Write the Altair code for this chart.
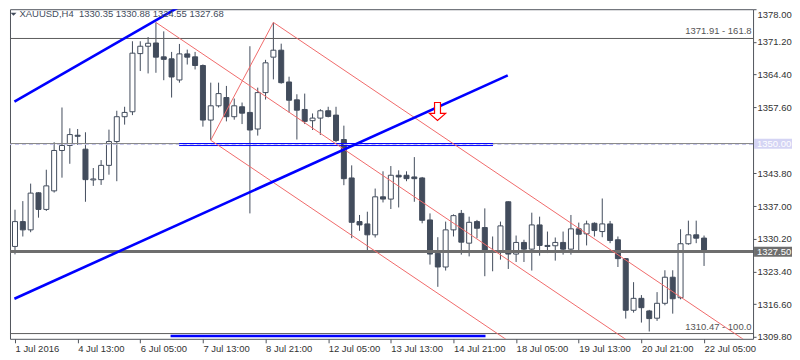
import altair as alt
import pandas as pd

symbol = "XAUUSD"
timeframe = "H4"

opens = [1328.61, 1333.78, 1332.06, 1339.77, 1336.32, 1340.18, 1348.59, 1349.63, 1351.76, 1348.86,
         1342.46, 1342.52, 1345.49, 1350.45, 1355.62, 1356.65, 1368.76, 1370.29, 1370.97, 1368.08,
         1367.67, 1363.27, 1368.70, 1368.08, 1366.28, 1354.92, 1357.89, 1359.61, 1355.62, 1357.69,
         1356.51, 1353.06, 1360.64, 1368.02, 1369.47, 1362.85, 1359.13, 1357.13, 1354.79, 1355.33,
         1356.86, 1355.95, 1350.87, 1342.87, 1333.78, 1333.30, 1331.03, 1338.94, 1338.47, 1343.43,
         1343.43, 1343.08, 1342.87, 1334.13, 1327.16, 1324.33, 1332.06, 1335.49, 1329.29, 1333.78,
         1332.54, 1327.72, 1327.43, 1337.91, 1327.02, 1329.44, 1328.05, 1333.09, 1328.82, 1328.75,
         1329.44, 1328.05, 1332.27, 1331.23, 1333.43, 1331.71, 1333.30, 1330.00, 1326.07, 1315.32,
         1317.80, 1315.18, 1313.67, 1316.77, 1322.20, 1317.93, 1329.17, 1331.03, 1330.35]
highs = [1336.26, 1338.05, 1341.69, 1339.90, 1344.58, 1350.31, 1357.54, 1353.20, 1353.06, 1352.38,
         1344.94, 1346.59, 1352.93, 1356.86, 1357.69, 1371.33, 1371.33, 1372.21, 1375.25, 1373.39,
         1369.11, 1370.77, 1369.59, 1369.11, 1366.50, 1362.71, 1362.71, 1362.03, 1359.40, 1358.57,
         1370.29, 1361.67, 1367.46, 1375.25, 1370.83, 1363.95, 1360.29, 1360.43, 1356.30, 1357.19,
         1357.69, 1357.69, 1353.76, 1345.49, 1335.16, 1335.84, 1340.66, 1344.25, 1345.35, 1344.46,
         1344.25, 1347.21, 1343.08, 1335.49, 1330.53, 1333.78, 1335.29, 1336.20, 1334.81, 1334.13,
         1336.53, 1330.68, 1333.78, 1338.00, 1330.88, 1330.00, 1335.64, 1334.81, 1331.71, 1330.47,
         1331.71, 1335.16, 1333.57, 1333.98, 1333.63, 1338.59, 1333.92, 1330.68, 1326.20, 1321.17,
         1318.48, 1315.40, 1319.10, 1323.65, 1323.65, 1332.19, 1333.98, 1333.98, 1330.88]
lows = [1326.96, 1330.68, 1331.57, 1334.60, 1336.00, 1339.83, 1342.93, 1345.82, 1349.75, 1337.91,
        1341.22, 1341.42, 1343.55, 1342.19, 1353.97, 1355.95, 1365.13, 1364.63, 1364.77, 1363.22,
        1359.61, 1362.71, 1366.49, 1365.46, 1353.55, 1350.78, 1357.54, 1354.65, 1355.00, 1354.09,
        1335.49, 1351.69, 1359.19, 1363.39, 1362.50, 1356.51, 1350.87, 1354.09, 1352.85, 1351.82,
        1355.48, 1350.31, 1341.36, 1330.33, 1331.86, 1327.78, 1330.47, 1337.77, 1336.40, 1336.73,
        1342.19, 1337.91, 1333.43, 1324.83, 1320.20, 1323.59, 1330.68, 1326.90, 1326.54, 1330.33,
        1322.41, 1323.44, 1325.86, 1323.92, 1325.37, 1325.37, 1323.59, 1326.69, 1327.23, 1325.66,
        1326.90, 1326.90, 1327.72, 1328.82, 1330.68, 1330.53, 1329.29, 1324.33, 1313.59, 1314.83,
        1312.76, 1310.90, 1313.11, 1316.36, 1314.62, 1317.60, 1328.96, 1329.29, 1324.55]
closes = [1333.78, 1332.06, 1339.71, 1336.32, 1341.22, 1348.59, 1349.63, 1351.90, 1351.55, 1342.52,
          1342.66, 1345.49, 1350.45, 1355.62, 1356.51, 1368.85, 1370.29, 1370.91, 1368.02, 1367.56,
          1363.89, 1368.70, 1368.02, 1366.28, 1354.92, 1357.89, 1360.43, 1355.62, 1357.89, 1356.36,
          1352.85, 1360.64, 1366.84, 1369.47, 1362.71, 1359.05, 1356.98, 1354.65, 1355.33, 1356.86,
          1355.68, 1350.66, 1342.72, 1333.63, 1333.09, 1331.03, 1338.94, 1338.47, 1343.43, 1343.08,
          1342.72, 1342.72, 1334.05, 1327.02, 1324.33, 1332.06, 1335.02, 1329.50, 1333.63, 1332.40,
          1327.58, 1327.37, 1332.89, 1327.02, 1329.44, 1328.05, 1333.09, 1328.82, 1328.61, 1329.44,
          1328.05, 1332.27, 1331.15, 1333.30, 1331.92, 1333.30, 1329.85, 1326.07, 1315.32, 1317.80,
          1315.86, 1313.59, 1316.77, 1322.20, 1317.72, 1329.17, 1331.03, 1330.33, 1327.68]

x_tick_index = [0, 8, 16, 24, 32, 40, 48, 56, 64, 72, 80, 88]
x_tick_labels = ["1 Jul 2016", "4 Jul 13:00", "6 Jul 05:00", "7 Jul 13:00", "8 Jul 21:00",
                 "12 Jul 05:00", "13 Jul 13:00", "14 Jul 21:00", "18 Jul 05:00", "19 Jul 13:00",
                 "20 Jul 21:00", "22 Jul 05:00"]
y_tick_values = [1378.00, 1371.20, 1364.40, 1357.60, 1343.80, 1337.00, 1330.20, 1323.40,
                 1316.60, 1309.80]

fib_prices = [1371.91, 1310.47]
fib_levels = ["161.8", "100.0"]

level_price = [1350.00]
support_price = [1327.50]

# blue thick trend lines (bar index, price)
blue_x0 = [-0.075, -0.075, 19.87]
blue_y0 = [1358.78, 1317.72, 1309.95]
blue_x1 = [21.05, 62.93, 60.09]
blue_y1 = [1378.56, 1364.22, 1309.95]

# blue double line on the 1350 level
dbl_x0 = [20.96]
dbl_x1 = [61.05]
dbl_y = [1350.00]

# red channel lines
red_x0 = [18.0, 33.0, 25.0, 25.0]
red_y0 = [1375.25, 1375.25, 1350.72, 1350.72]
red_x1 = [79.2, 94.23, 63.91, 33.0]
red_y1 = [1307.94, 1307.94, 1307.94, 1375.25]

arrow_x = [53.96]
arrow_y = [1356.71]

tag_prices = [1350.00, 1327.50]
tag_colors = ["#d4d4f4", "#6e6e6e"]

# ---------------------------------------------------------------
C = "#424c5c"
F = "Liberation Sans"
FS = 9.5
W = 744
H = 330

xs = alt.Scale(domain=[0, W / 7.947], nice=False, zero=False)
ys = alt.Scale(domain=[1309.38, 1378.0], nice=False, zero=False)

candles = pd.DataFrame({"i": list(range(len(opens))), "open": opens, "high": highs,
                        "low": lows, "close": closes})

label_expr = ("[" + ",".join("'%s'" % s for s in x_tick_labels) + "]"
              "[indexof(" + str(x_tick_index) + ", datum.value)]")

xaxis = alt.Axis(values=x_tick_index, labelExpr=label_expr, labelAlign="left",
                 labelFlush=False, labelOverlap=False, tickSize=4, tickColor="#50545c",
                 domain=False, grid=False, title=None, labelFontSize=FS, labelFont=F,
                 labelColor="#333333", labelPadding=1)
yaxis = alt.Axis(orient="right", values=y_tick_values, format=".2f", tickSize=3,
                 tickColor="#50545c", labelPadding=1, domain=False, grid=False, title=None,
                 labelFontSize=FS, labelFont=F, labelColor="#333333", labelOverlap=False,
                 labelFlush=True)


def X(f):
    return alt.X(f, scale=xs, axis=xaxis)


def Y(f):
    return alt.Y(f, scale=ys, axis=yaxis)


wick = alt.Chart(candles).mark_rule(color=C, strokeWidth=1, clip=True).encode(
    x=X("i:Q"), y=Y("low:Q"), y2="high:Q")
body = alt.Chart(candles).mark_bar(size=5, stroke=C, strokeWidth=1, clip=True,
                                   orient="vertical").encode(
    x=X("i:Q"), y=Y("open:Q"), y2="close:Q",
    fill=alt.condition("datum.close >= datum.open", alt.value("white"), alt.value(C)),
)

fib_df = pd.DataFrame({"p": fib_prices,
                       "t": ["%.2f - %s" % (p, l) for p, l in zip(fib_prices, fib_levels)]})
fib_rule = alt.Chart(fib_df).mark_rule(color="#5c5c5c", strokeWidth=1).encode(y=Y("p:Q"))
fib_text = alt.Chart(fib_df).mark_text(align="right", baseline="bottom", dy=-2, font=F,
                                       fontSize=FS, color="#555555").encode(
    x=alt.value(W - 1.5), y=Y("p:Q"), text="t:N")

lvl_df = pd.DataFrame({"p": level_price})
lvl_rule = alt.Chart(lvl_df).mark_rule(color="#858585", strokeWidth=1,
                                       yOffset=-0.15).encode(y=Y("p:Q"))
lvl_dash = alt.Chart(lvl_df).mark_rule(color="#c8c8f0", strokeWidth=1, strokeDash=[4, 3],
                                       yOffset=0.85).encode(y=Y("p:Q"))

sup_df = pd.DataFrame({"p": support_price})
sup_rule = alt.Chart(sup_df).mark_rule(color="#6e6e6e", strokeWidth=3,
                                       yOffset=-0.36).encode(y=Y("p:Q"))

dbl_df = pd.DataFrame({"x0": dbl_x0, "x1": dbl_x1, "p": dbl_y})
dbl_a = alt.Chart(dbl_df).mark_rule(color="#0000ff", strokeWidth=1, yOffset=-0.15).encode(
    x=X("x0:Q"), x2="x1:Q", y=Y("p:Q"))
dbl_b = alt.Chart(dbl_df).mark_rule(color="#0000ff", strokeWidth=1, yOffset=1.85).encode(
    x=X("x0:Q"), x2="x1:Q", y=Y("p:Q"))

red_df = pd.DataFrame({"x0": red_x0, "y0": red_y0, "x1": red_x1, "y1": red_y1})
red = alt.Chart(red_df).mark_rule(color="#f06a6a", strokeWidth=1, clip=True).encode(
    x=X("x0:Q"), x2="x1:Q", y=Y("y0:Q"), y2="y1:Q")

blue_df = pd.DataFrame({"x0": blue_x0, "y0": blue_y0, "x1": blue_x1, "y1": blue_y1})
blue = alt.Chart(blue_df).mark_rule(color="#0000ff", strokeWidth=2.6, clip=True).encode(
    x=X("x0:Q"), x2="x1:Q", y=Y("y0:Q"), y2="y1:Q")

arrow_path = "M-0.33,-1L0.33,-1L0.33,0.22L0.9,0.22L0,1L-0.9,0.22L-0.33,0.22Z"
arrow = alt.Chart(pd.DataFrame({"x": arrow_x, "y": arrow_y})).mark_point(
    shape=arrow_path, size=324, filled=True, fill="white", stroke="#ff0000",
    strokeWidth=1.2, opacity=1, clip=True).encode(x=X("x:Q"), y=Y("y:Q"))

title_txt = "%s,%s\u00a0 %.2f %.2f %.2f %.2f" % (symbol, timeframe, opens[-1], highs[-1],
                                                 lows[-1], closes[-1])
title_df = pd.DataFrame({"t": [title_txt]})
tri = alt.Chart(title_df).mark_point(shape="M-1,-0.5L1,-0.5L0,0.5Z", size=36, filled=True,
                                     color=C, opacity=1).encode(
    x=alt.value(3.5), y=alt.value(5))
title = alt.Chart(title_df).mark_text(align="left", baseline="middle", font=F, fontSize=FS,
                                      color=C).encode(
    x=alt.value(9.5), y=alt.value(5), text="t:N")

tag_df = pd.DataFrame({"p": tag_prices, "bg": tag_colors,
                       "lbl": ["%.2f" % p for p in tag_prices]})
tag_box = alt.Chart(tag_df).mark_point(shape="M-1,-0.263L1,-0.263L1,0.263L-1,0.263Z",
                                       size=1444, filled=True, opacity=1,
                                       strokeWidth=0).encode(
    x=alt.value(W + 20), y=Y("p:Q"), color=alt.Color("bg:N", scale=None))
tag_txt = alt.Chart(tag_df).mark_text(align="left", baseline="middle", font=F, fontSize=FS,
                                      color="white").encode(
    x=alt.value(W + 4), y=Y("p:Q"), text="lbl:N")

chart = alt.layer(
    wick, body, fib_rule, fib_text, lvl_dash, lvl_rule, sup_rule, dbl_a, dbl_b,
    red, blue, arrow, tri, title, tag_box, tag_txt
).properties(
    width=W, height=H, padding=0, background="white"
).configure_view(stroke="#50545c", strokeWidth=1)

chart.save("out.html", embed_options={"renderer": "svg", "actions": False})
